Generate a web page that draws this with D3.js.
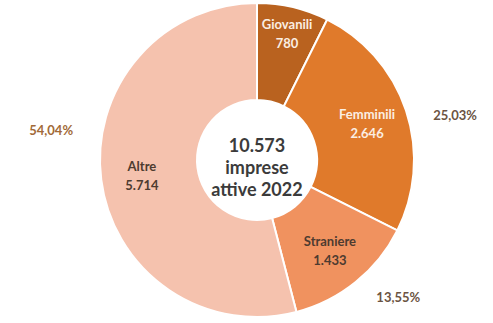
<!DOCTYPE html>
<html>
<head>
<meta charset="utf-8">
<script src="https://cdn.jsdelivr.net/npm/d3@7"></script>
<style>
  html, body { margin: 0; padding: 0; background: #fff; }
  svg { display: block; }
</style>
</head>
<body>
<svg id="chart" width="493" height="323"></svg>
<script>
// Imprese attive 2022 per tipologia
const categories = ["Giovanili", "Femminili", "Straniere", "Altre"];
const values = [780, 2646, 1433, 5714];
const valueLabels = ["780", "2.646", "1.433", "5.714"];
const percentLabels = ["", "25,03%", "13,55%", "54,04%"];
const totalLabel = ["10.573", "imprese", "attive 2022"];

const colors = ["#b9621f", "#e07a2b", "#f0925f", "#f5c2ae"];
const labelColors = ["#fbeee2", "#fbeee2", "#4d3b30", "#4d3b30"];

const width = 493, height = 323;
const cx = 257, cy = 160;
const outerR = 157, innerR = 60;

const svg = d3.select("#chart");
const g = svg.append("g").attr("transform", `translate(${cx},${cy})`);

const data = categories.map((c, i) => ({ name: c, value: values[i], i }));

const pie = d3.pie().sort(null).value(d => d.value);
const arcs = pie(data);

const arc = d3.arc().innerRadius(innerR).outerRadius(outerR);

g.selectAll("path.slice")
  .data(arcs)
  .enter().append("path")
  .attr("class", "slice")
  .attr("d", arc)
  .attr("fill", d => colors[d.data.i])
  .attr("stroke", "#fff")
  .attr("stroke-width", 2);

// inner labels: category name + value, placed on each slice's centroid
const labelRadius = d => d.data.i === 0 ? 131 : 116;
const font = "Lato, 'Open Sans', sans-serif";

const lbl = g.selectAll("g.lbl")
  .data(arcs)
  .enter().append("g")
  .attr("class", "lbl")
  .attr("transform", d => {
    const r = labelRadius(d);
    const c = d3.arc().innerRadius(r).outerRadius(r).centroid(d);
    return `translate(${c[0]},${c[1]})`;
  });

lbl.append("text")
  .attr("text-anchor", "middle")
  .attr("y", -4)
  .attr("font-family", font)
  .attr("font-weight", 700)
  .attr("font-size", 13)
  .attr("fill", d => labelColors[d.data.i])
  .text(d => d.data.name);

lbl.append("text")
  .attr("text-anchor", "middle")
  .attr("y", 15)
  .attr("font-family", font)
  .attr("font-weight", 700)
  .attr("font-size", 13)
  .attr("fill", d => labelColors[d.data.i])
  .text(d => valueLabels[d.data.i]);

// outside percentage labels (angle offset from slice mid, radius)
const pctPlacement = [null, { da: 0.10, r: 203 }, { da: -0.12, r: 197 }, { da: 0.27, r: 208 }];
g.selectAll("text.pct")
  .data(arcs.filter(d => percentLabels[d.data.i]))
  .enter().append("text")
  .attr("class", "pct")
  .attr("text-anchor", "middle")
  .attr("dy", "0.35em")
  .attr("font-family", font)
  .attr("font-weight", 700)
  .attr("font-size", 13)
  .attr("fill", d => d.data.i === 3 ? "#a26a38" : "#6b5443")
  .attr("x", d => {
    const p = pctPlacement[d.data.i];
    const a = (d.startAngle + d.endAngle) / 2 + p.da;
    return Math.sin(a) * p.r;
  })
  .attr("y", d => {
    const p = pctPlacement[d.data.i];
    const a = (d.startAngle + d.endAngle) / 2 + p.da;
    return -Math.cos(a) * p.r;
  })
  .text(d => percentLabels[d.data.i]);

// centre total
g.selectAll("text.total")
  .data(totalLabel)
  .enter().append("text")
  .attr("class", "total")
  .attr("text-anchor", "middle")
  .attr("y", (d, i) => -8 + i * 22)
  .attr("font-family", font)
  .attr("font-weight", 700)
  .attr("font-size", 18)
  .attr("fill", "#3b3b3b")
  .text(d => d);
</script>
</body>
</html>
